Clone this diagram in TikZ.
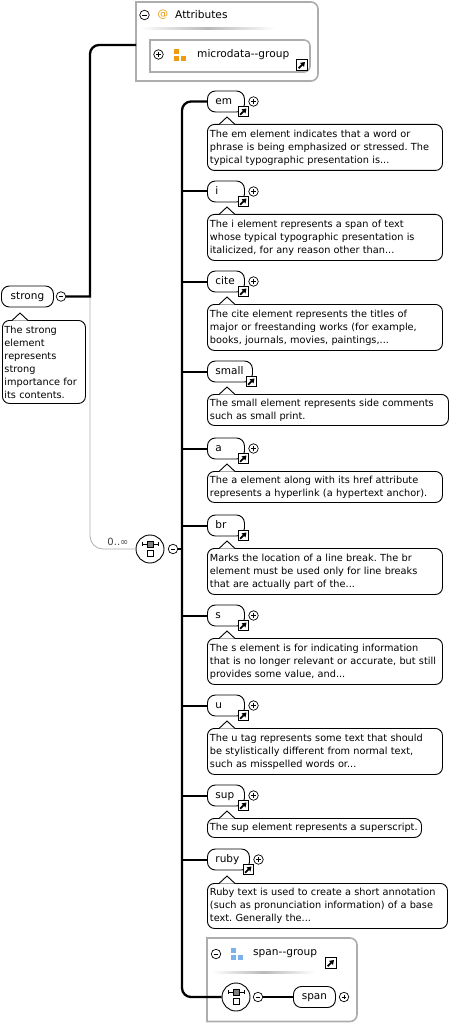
\documentclass[tikz,border=0pt]{standalone}
\usepackage{fontspec}
\setmainfont{DejaVu Sans}
\usetikzlibrary{arrows.meta}
\definecolor{grpgray}{gray}{0.68}
\definecolor{attrorange}{HTML}{F09A10}
\definecolor{grpblue}{HTML}{7CB2EC}
\tikzset{
  wire/.style={line width=2.3pt,rounded corners=9},
  optwire/.style={line width=0.8pt,draw=grpgray,rounded corners=13},
  grpline/.style={line width=1.6pt,draw=grpgray},
  elbox/.style={draw,fill=white,rounded corners=8,line width=0.9pt,minimum height=21,inner ysep=0,inner xsep=8,text height=7.5,text depth=2,font=\fontsize{10.5}{12}\selectfont},
  docbox/.style={draw,fill=white,rounded corners=7,line width=0.9pt,inner sep=0,anchor=north west,font=\fontsize{9.75}{13}\selectfont},
  lbl/.style={inner sep=0,anchor=west,font=\fontsize{10.6}{12}\selectfont},
  btn/.style={circle,draw,fill=white,minimum size=9.5,inner sep=0,line width=0.7pt},
  plusbtn/.style={btn,path picture={
    \draw[line width=0.7pt] ([xshift=-2.4]path picture bounding box.center) -- ++(4.8,0);
    \draw[line width=0.7pt] ([yshift=2.4]path picture bounding box.center) -- ++(0,4.8);}},
  minusbtn/.style={btn,path picture={
    \draw[line width=0.7pt] ([xshift=-2.4]path picture bounding box.center) -- ++(4.8,0);}},
  linkicon/.style={draw,fill=white,minimum size=10.5,inner sep=0,line width=0.9pt,path picture={
    \draw[line width=1.7pt,-{Triangle[length=4.2pt,width=5.4pt]}] ([shift={(-3.4,3.2)}]path picture bounding box.center) -- ++(6.4,-6.2);}},
  seqnode/.style={circle,draw,fill=white,minimum size=28,inner sep=0,line width=0.9pt,path picture={
    \begin{scope}[shift={(path picture bounding box.center)}]
    \draw[line width=0.7pt] (-8,-5) -- (8,-5);
    \draw[line width=0.8pt] (-8,-7) -- (-8,-3) (8,-7) -- (8,-3);
    \filldraw[fill=gray,line width=0.5pt] (-3,-8) rectangle (3,-2);
    \draw[fill=white,line width=0.7pt] (-3,1.5) rectangle (3,7.5);
    \end{scope}}}
}
\begin{document}
\frenchspacing
\begin{tikzpicture}[x=1pt,y=-1pt]
\useasboundingbox (0,0) rectangle (473,1024);

% strong element and its note
\node[elbox,anchor=west,text width=36,align=center] (strong) at (1,296.5) {strong};
\node[minusbtn] (strongmin) at (61,296.5) {};
\node[docbox,minimum width=83,minimum height=83,text width=79,align=left] (strongdoc) at (2,320)
  {The strong\\element\\represents\\strong\\importance for\\its contents.};
\draw[line width=0.9pt,fill=white] (12,320.5) -- (20,313) -- (28,320.5);

% attributes group
\coordinate (attrbox) at (136,45);
\draw[grpline] (136,2) [rounded corners=7] -- (318,2) -- (318,81) [sharp corners] -- (136,81) -- cycle;
\node[minusbtn] (attrmin) at (144.5,15) {};
\node[lbl,text=attrorange] (attrat) at (157.5,15) {@};
\node[lbl] (attrtitle) at (175,15) {Attributes};
\shade[left color=white,right color=white,middle color=gray!55] (140,28) rectangle (275,30);
\draw[grpline] (150,40) [rounded corners=6] -- (310,40) -- (310,72) [sharp corners] -- (150,72) -- cycle;
\node[plusbtn] (mdplus) at (158.5,54.5) {};
\foreach \dx/\dy in {0/0,0/7,7/7}
    \fill[attrorange] (174+\dx,49+\dy) rectangle ++(5,5);
\node[lbl] (mdname) at (197,54.5) {microdata{-}{-}group};
\node[linkicon] (mdlink) at (302,65) {};

% choice of inline elements
\node[seqnode] (seq) at (150,549) {};
\node[minusbtn] (seqmin) at (173,549) {};
\node[inner sep=0,text=black!75,font=\fontsize{10}{12}\selectfont] (seqcount) at (118,542) {0..∞};
\coordinate (bus) at (182,549);

\foreach \n/\yc/\bw/\pl/\dt/\dw/\dh/\txt in {
    em/101.5/37/1/124/235/46/{The em element indicates that a word or\\phrase is being emphasized or stressed. The\\typical typographic presentation is...},
    i/191.5/37/1/214/235/46/{The i element represents a span of text\\whose typical typographic presentation is\\italicized, for any reason other than...},
    cite/281.5/37/1/304/235/46/{The cite element represents the titles of\\major or freestanding works (for example,\\books, journals, movies, paintings,...},
    small/371.5/45/0/394/241/31/{The small element represents side comments\\such as small print.},
    a/448.5/37/1/471/235/31/{The a element along with its href attribute\\represents a hyperlink (a hypertext anchor).},
    br/525.5/37/0/548/235/46/{Marks the location of a line break. The br\\element must be used only for line breaks\\that are actually part of the...},
    s/615.5/37/1/638/235/46/{The s element is for indicating information\\that is no longer relevant or accurate, but still\\provides some value, and...},
    u/705.5/37/1/728/235/46/{The u tag represents some text that should\\be stylistically different from normal text,\\such as misspelled words or...},
    sup/795.5/37/1/818/214/19/{The sup element represents a superscript.},
    ruby/859.5/42/1/883/240/45/{Ruby text is used to create a short annotation\\(such as pronunciation information) of a base\\text. Generally the...}}
{
    \node[elbox,anchor=west,text width=\bw-16,align=left] (el-\n) at (207,\yc) {\n};
    \node[linkicon] (link-\n) at (207+\bw-0.5,\yc+10) {};
    \ifnum\pl=1
        \node[plusbtn] (plus-\n) at (207+\bw+9.5,\yc) {};
    \fi
    \node[docbox,minimum width=\dw,minimum height=\dh,text width=\dw-5,align=left] (doc-\n) at (207,\dt) {\txt};
    \draw[line width=0.9pt,fill=white] (219,\dt+0.5) -- (227,\dt-7) -- (235,\dt+0.5);
}
\foreach \n in {i,cite,small,a,br,s,u,sup,ruby}
    \draw[line width=2pt] (bus |- el-\n.west) -- (el-\n.west);

% span group
\draw[grpline] (207,938) [rounded corners=7] -- (357,938) -- (357,1021.5) [sharp corners] -- (207,1021.5) -- cycle;
\node[minusbtn] (spanmin) at (216,954) {};
\foreach \dx/\dy in {0/0,0/7,7/7}
    \fill[grpblue] (231+\dx,948+\dy) rectangle ++(5,5);
\node[lbl] (spantitle) at (253,954) {span{-}{-}group};
\node[linkicon] (spanlink) at (331,963) {};
\shade[left color=white,right color=white,middle color=gray!55] (212,971) rectangle (315,973);
\node[seqnode] (spanseq) at (236,997) {};
\node[minusbtn] (spanseqmin) at (258,997) {};
\node[elbox,anchor=west,text width=26,align=center] (span) at (293,997) {span};
\node[plusbtn] (spanplus) at (344,997) {};

% connectors
\draw[optwire] (90,297) |- (seq.west);
\draw[wire,sharp corners] (strongmin) -- (90,296.5) [rounded corners=9] |- (attrbox);
\draw[wire] (bus) |- (el-em.west);
\draw[wire] (bus) |- (spanseq.west);
\draw[line width=1.5pt] (seqmin.east) -- (bus);
\draw[line width=1.5pt] (spanseqmin.east) -- (span.west);
\end{tikzpicture}
\end{document}
